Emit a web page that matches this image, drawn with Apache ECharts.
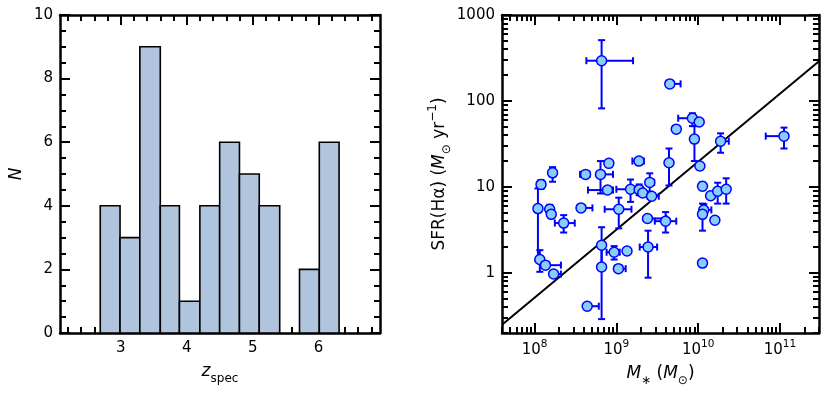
<!DOCTYPE html>
<html>
<head>
<meta charset="utf-8">
<script src="https://cdn.jsdelivr.net/npm/echarts@6/dist/echarts.min.js"></script>
<style>
html, body { margin: 0; padding: 0; background: #fff; }
#chart { width: 830px; height: 394px; }
</style>
</head>
<body>
<div id="chart"></div>
<script>
// left panel: redshift histogram
var zBinEdges = [2.69, 2.99, 3.29, 3.60, 3.89, 4.20, 4.50, 4.80, 5.10, 5.41, 5.71, 6.01, 6.31];
var zCounts = [4, 3, 9, 4, 1, 4, 6, 5, 4, 0, 2, 6];
var zTicks = [3, 4, 5, 6];
var nTicks = [0, 2, 4, 6, 8, 10];

// right panel: SFR(Halpha) vs stellar mass (null = no error bar on that side)
var mass = [6.6e8, 4.5e9, 8.5e9, 9.0e9, 1.03e10, 5.4e9, 1.12e11, 1.88e10, 4.4e9, 1.05e10,
            1.89e9, 8.1e8, 6.4e8, 4.2e8, 1.66e8, 1.2e8, 1.1e8, 1.16e8, 1.36e8, 1.71e8,
            1.53e8, 1.6e8, 2.27e8, 3.7e8, 6.6e8, 6.6e8, 4.4e8, 9.4e8, 1.06e9, 1.35e9,
            1.07e9, 7.8e8, 1.49e9, 1.9e9, 2.1e9, 2.56e9, 2.7e9, 2.4e9, 4.0e9, 2.44e9,
            1.13e10, 1.42e10, 1.73e10, 2.2e10, 1.17e10, 1.13e10, 1.6e10, 1.13e10];
var sfr = [294, 158, 63, 36, 57, 47, 39, 34, 19.1, 17.5,
           20, 18.8, 14, 14, 14.6, 10.7, 5.6, 1.43, 1.23, 0.97,
           5.5, 4.8, 3.8, 5.7, 2.1, 1.17, 0.41, 1.74, 1.12, 1.8,
           5.5, 9.2, 9.4, 9.3, 8.5, 11.3, 7.8, 4.3, 4.0, 2.0,
           10.2, 7.9, 8.9, 9.4, 5.4, 4.8, 4.1, 1.3];
var massLo = [4.3e8, null, 5.7e9, null, null, null, 6.7e10, null, null, null,
              1.57e9, null, null, 3.6e8, null, null, null, null, null, null,
              null, null, 1.77e8, null, null, 6.0e8, null, 7.6e8, null, null,
              7.2e8, 4.5e8, 1.0e9, 1.8e9, null, 2.4e9, 2.4e9, null, 2.95e9, 1.93e9,
              null, null, null, null, null, null, null, null];
var massHi = [1.6e9, 6.1e9, null, null, null, null, null, 2.37e10, null, null,
              2.17e9, null, 9.1e8, 4.7e8, null, null, null, null, 2.1e8, 2.1e8,
              null, null, 3.1e8, 5.1e8, null, 7.2e8, 6.1e8, 1.1e9, 1.3e9, null,
              1.53e9, 9.1e8, 2.0e9, 2.05e9, null, 2.9e9, 3.3e9, 4.1e9, 5.4e9, 3.15e9,
              null, null, null, null, 1.45e10, null, null, null];
var sfrLo = [82, null, 51, 20, null, null, 28, 25, 10.4, 16,
             null, null, 8.4, null, 11.5, 9.5, 1.4, 1.03, null, null,
             5.0, null, 2.95, null, 1.2, 0.29, null, 1.43, null, null,
             3.3, null, 6.7, 8.0, null, 8.8, null, null, 2.95, 0.88,
             9.2, null, 6.4, 6.4, 5.0, 3.1, null, null];
var sfrHi = [510, null, 72, 51, null, null, 49, 42, 28, 19,
             null, null, 20, null, 17, 12, 9.6, 1.84, null, null,
             6.2, null, 4.7, null, 3.4, 2.0, null, 2.05, null, null,
             7.5, null, 12.2, 10.7, null, 14.4, null, null, 5.1, 3.1,
             11.3, null, 11.2, 12.6, 6.3, 6.4, null, null];
var massTickExp = [8, 9, 10, 11];
var sfrTicks = [1, 10, 100, 1000];
// fit line end points
var lineMass = [4e7, 3e11];
var lineSfr = [0.25, 290];

var lg = Math.log10;
var FONT = 'DejaVu Sans';

// minor tick positions (axis decoration only)
var zMinor = [], nMinor = [], mMinor = [], sMinor = [];
for (var t = 2.2; t < 6.95; t += 0.2) zMinor.push(Math.round(t * 10) / 10);
for (var t2 = 0; t2 <= 10; t2 += 0.5) nMinor.push(t2);
for (var d = 7; d <= 11; d++) for (var k = 2; k <= 9; k++) mMinor.push(lg(k * Math.pow(10, d)));
for (var d2 = -1; d2 <= 2; d2++) for (var k2 = 2; k2 <= 9; k2++) sMinor.push(lg(k2 * Math.pow(10, d2)));

var xMin = lg(lineMass[0]), xMax = lg(lineMass[1]);
var yMin = lg(0.2), yMax = lg(1000);

function makeAxes(grid, dim, min, max, major, minor, label, name) {
  var pos = dim === 'x' ? ['bottom', 'top'] : ['left', 'right'];
  var list = [];
  [0, 1].forEach(function (side) {
    [true, false].forEach(function (isMajor) {
      var ax = {
        type: 'value', gridIndex: grid, position: pos[side], min: min, max: max,
        splitLine: { show: false },
        axisLine: { show: isMajor, onZero: false, lineStyle: { color: '#000', width: 2.5 } },
        axisTick: { show: true, inside: true, length: isMajor ? 10 : 6,
          customValues: isMajor ? major : minor,
          lineStyle: { color: '#000', width: 2 } },
        axisLabel: { show: false }
      };
      if (side === 0 && isMajor) {
        ax.axisLabel = label;
        ax.name = name.text;
        ax.nameLocation = 'middle';
        ax.nameGap = name.gap;
        ax.nameTextStyle = name.style;
      }
      list.push(ax);
    });
  });
  return list;
}

var tickFont = { fontFamily: FONT, fontSize: 15, color: '#000' };
var nameRich = {
  r: { fontFamily: FONT, fontSize: 17, lineHeight: 26, color: '#000' },
  i: { fontFamily: FONT, fontSize: 17, fontStyle: 'italic', lineHeight: 26, color: '#000' },
  sub: { fontFamily: FONT, fontSize: 12, lineHeight: 12, verticalAlign: 'bottom', color: '#000' },
  sup: { fontFamily: FONT, fontSize: 12, lineHeight: 12, verticalAlign: 'top', color: '#000' }
};

var xAxes = [].concat(
  makeAxes(0, 'x', 2.08, 6.93, zTicks, zMinor,
    Object.assign({ show: true, margin: 8, customValues: zTicks }, tickFont),
    { text: '{i|z}{sub|spec}', gap: 26, style: { rich: nameRich } }),
  makeAxes(1, 'x', xMin, xMax, massTickExp, mMinor,
    { show: true, margin: 6, customValues: massTickExp,
      formatter: function (v) { return '{b|10}{s|' + Math.round(v) + '}'; },
      rich: {
        b: { fontFamily: FONT, fontSize: 15, lineHeight: 22, color: '#000' },
        s: { fontFamily: FONT, fontSize: 10.5, lineHeight: 11, verticalAlign: 'top', color: '#000' }
      } },
    { text: '{i|M}{sub|\u2217}{r| (}{i|M}{sub|\u2299}{r|)}', gap: 28, style: { rich: nameRich } })
);
var yAxes = [].concat(
  makeAxes(0, 'y', 0, 10, nTicks, nMinor,
    Object.assign({ show: true, margin: 7, customValues: nTicks }, tickFont),
    { text: '{i|N}', gap: 30, style: { rich: nameRich } }),
  makeAxes(1, 'y', yMin, yMax, sfrTicks.map(lg), sMinor,
    Object.assign({ show: true, margin: 7, customValues: sfrTicks.map(lg),
      formatter: function (v) { return String(Math.round(Math.pow(10, v))); } }, tickFont),
    { text: '{r|SFR(H\u03b1) (}{i|M}{sub|\u2299}{r| yr}{sup|\u22121}{r|)}', gap: 48, style: { rich: nameRich } })
);

var histData = zCounts.map(function (c, i) { return [zBinEdges[i], zBinEdges[i + 1], c]; });
var errData = mass.map(function (m, i) {
  return [lg(m), lg(sfr[i]), lg(massLo[i] || m), lg(massHi[i] || m),
          lg(sfrLo[i] || sfr[i]), lg(sfrHi[i] || sfr[i])];
});
var pointData = mass.map(function (m, i) { return [lg(m), lg(sfr[i])]; });

var option = {
  animation: false,
  backgroundColor: '#fff',
  grid: [
    { left: 60, right: 450, top: 15, bottom: 61 },
    { left: 502, right: 11, top: 15, bottom: 61 }
  ],
  xAxis: xAxes,
  yAxis: yAxes,
  series: [
    {
      type: 'custom', xAxisIndex: 0, yAxisIndex: 0, z: 1,
      encode: { x: [0, 1], y: 2 },
      data: histData,
      renderItem: function (params, api) {
        if (api.value(2) <= 0) return null;
        var p0 = api.coord([api.value(0), api.value(2)]);
        var p1 = api.coord([api.value(1), 0]);
        return {
          type: 'rect',
          shape: { x: p0[0], y: p0[1], width: p1[0] - p0[0], height: p1[1] - p0[1] },
          style: { fill: '#b0c4de', stroke: '#000', lineWidth: 1.6 }
        };
      }
    },
    {
      type: 'line', xAxisIndex: 4, yAxisIndex: 4, z: 2,
      data: [[lg(lineMass[0]), lg(lineSfr[0])], [lg(lineMass[1]), lg(lineSfr[1])]],
      showSymbol: false, silent: true,
      lineStyle: { color: '#000', width: 2 }
    },
    {
      type: 'custom', xAxisIndex: 4, yAxisIndex: 4, z: 3,
      encode: { x: [0, 2, 3], y: [1, 4, 5] },
      data: errData,
      renderItem: function (params, api) {
        var c = api.coord([api.value(0), api.value(1)]);
        var xl = api.coord([api.value(2), api.value(1)])[0];
        var xh = api.coord([api.value(3), api.value(1)])[0];
        var yl = api.coord([api.value(0), api.value(4)])[1];
        var yh = api.coord([api.value(0), api.value(5)])[1];
        var st = { stroke: '#0000ff', lineWidth: 2 };
        var cap = 3.5;
        var kids = [];
        function seg(x1, y1, x2, y2) {
          kids.push({ type: 'line', shape: { x1: x1, y1: y1, x2: x2, y2: y2 }, style: st });
        }
        if (c[0] - xl > 1) { seg(xl, c[1], c[0], c[1]); seg(xl, c[1] - cap, xl, c[1] + cap); }
        if (xh - c[0] > 1) { seg(c[0], c[1], xh, c[1]); seg(xh, c[1] - cap, xh, c[1] + cap); }
        if (yl - c[1] > 1) { seg(c[0], c[1], c[0], yl); seg(c[0] - cap, yl, c[0] + cap, yl); }
        if (c[1] - yh > 1) { seg(c[0], yh, c[0], c[1]); seg(c[0] - cap, yh, c[0] + cap, yh); }
        return { type: 'group', children: kids };
      }
    },
    {
      type: 'scatter', xAxisIndex: 4, yAxisIndex: 4, z: 4,
      data: pointData,
      symbol: 'circle', symbolSize: 10,
      itemStyle: { color: '#87cefa', borderColor: '#0000ff', borderWidth: 1.5, opacity: 1 }
    }
  ]
};

var chart = echarts.init(document.getElementById('chart'), null, { renderer: 'canvas' });
chart.setOption(option);
</script>
</body>
</html>
